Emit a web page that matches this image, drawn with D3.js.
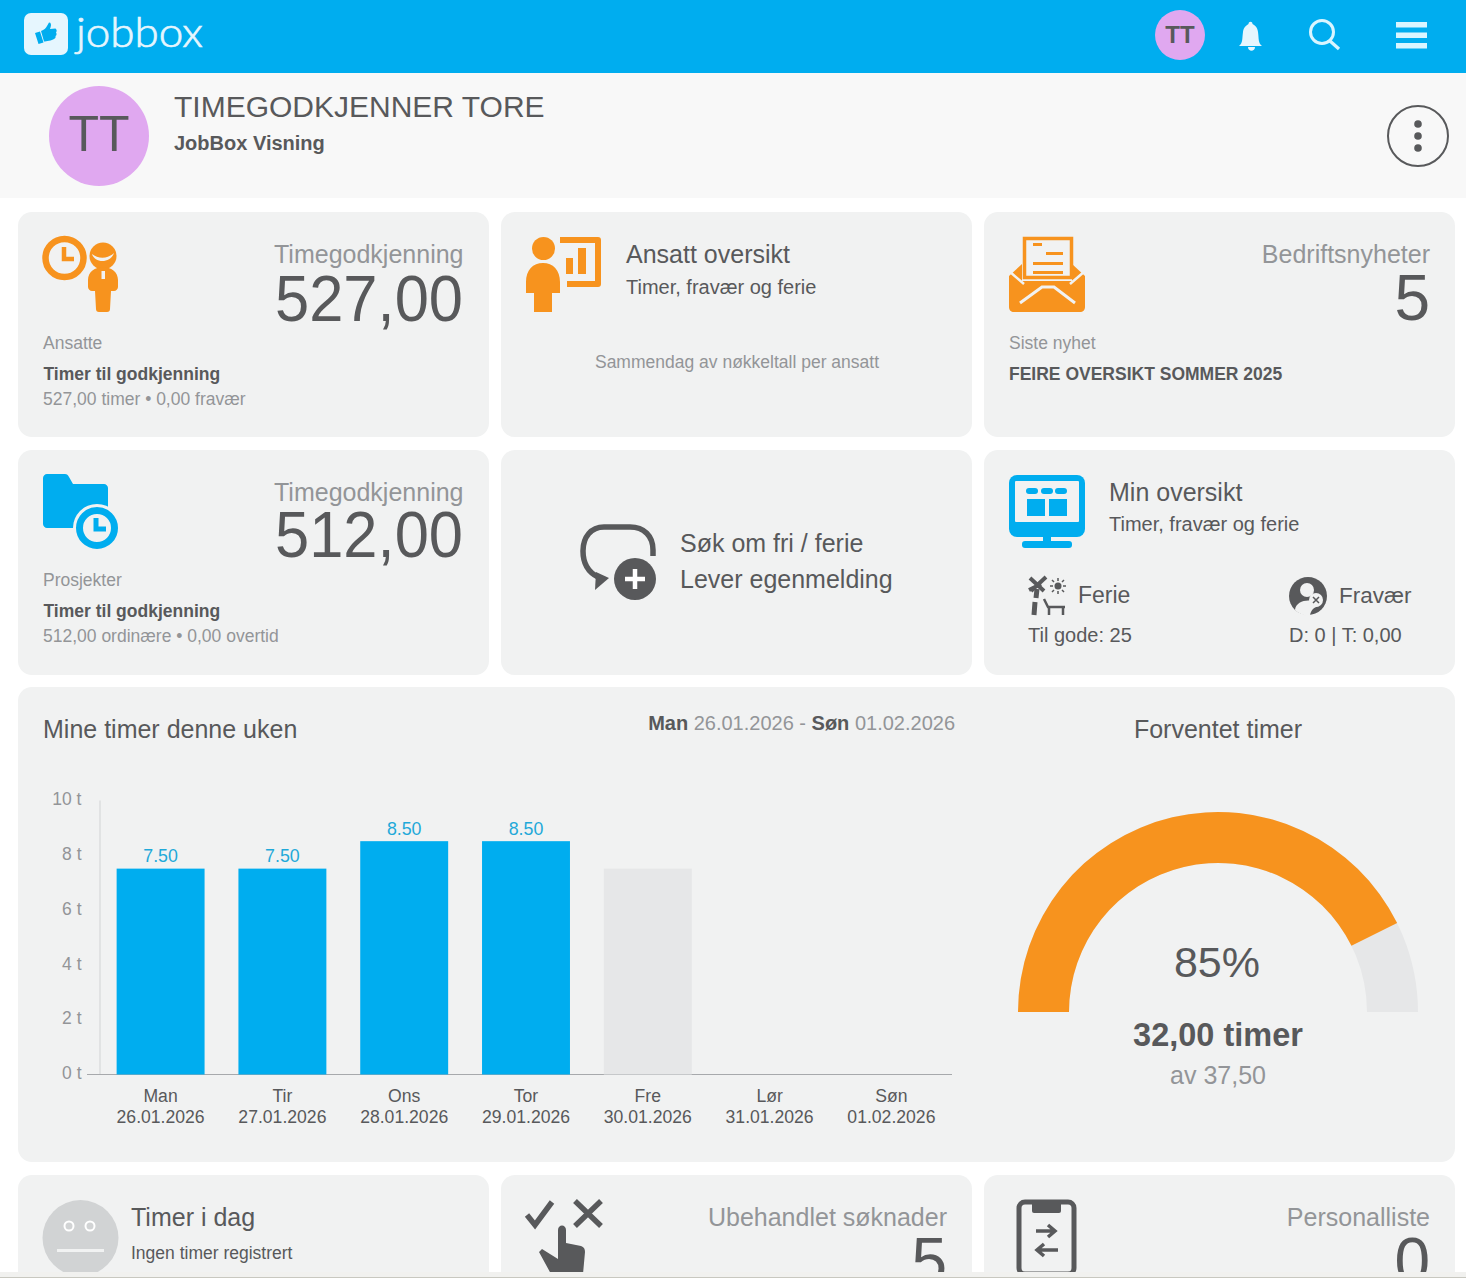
<!DOCTYPE html>
<html><head><meta charset="utf-8">
<script src="https://cdnjs.cloudflare.com/ajax/libs/d3/7.8.5/d3.min.js"></script>
<style>html,body{margin:0;padding:0;background:#fff;overflow:hidden}svg{display:block}text{font-family:"Liberation Sans",Arial,sans-serif}</style>
</head><body><div id="c"></div>
<script>
const days=["Man","Tir","Ons","Tor","Fre","Lør","Søn"];
const dates=["26.01.2026","27.01.2026","28.01.2026","29.01.2026","30.01.2026","31.01.2026","01.02.2026"];
const registered=[7.5,7.5,8.5,8.5,0,0,0];
const planned=[0,0,0,0,7.5,0,0];
const yTicks=[0,2,4,6,8,10];
const gaugeHours=32, gaugeTotal=37.5;

const BLUE="#00adef",OR="#f7931e",CARD="#f1f2f2",DK="#58595b",GR="#939598",LT="#e6e7e8";
const svg=d3.select("#c").append("svg").attr("width",1466).attr("height",1278);
const T=(x,y,s,size,fill,o={})=>svg.append("text").attr("x",x).attr("y",y).attr("font-size",size).attr("fill",fill)
  .attr("text-anchor",o.a||"start").attr("font-weight",o.b?"bold":"normal").text(s);
const P=(d,fill,stroke,w)=>svg.append("path").attr("d",d).attr("fill",fill||"none").attr("stroke",stroke||"none").attr("stroke-width",w||0);
const C=(x,y,r,fill,stroke,w)=>svg.append("circle").attr("cx",x).attr("cy",y).attr("r",r).attr("fill",fill||"none").attr("stroke",stroke||"none").attr("stroke-width",w||0);
const R=(x,y,w,h,fill,rx)=>svg.append("rect").attr("x",x).attr("y",y).attr("width",w).attr("height",h).attr("fill",fill).attr("rx",rx||0);

// header
R(0,0,1466,73,BLUE); R(0,73,1466,125,"#f8f8f8");
R(24,13,44,42,"#e6f6fe",7);
P("M35 33l5-1.5 3.5 11-5 1.5zM41 31c3-1 5-3 6-5l2-3.500c2 0 2.500 2 1.500 5l-.5 1.500 5.500-.5c1.500 1 1.500 3 .5 4 1 1.500 .5 3-.5 3.500 .5 1.500-.5 2.500-1.500 3-2 1.500-8 2.500-10 2.500z",BLUE);
svg.append("text").attr("x",76).attr("y",47).attr("font-size",41).attr("textLength",127).attr("lengthAdjust","spacingAndGlyphs")
  .attr("fill","#e6f6fe").attr("stroke","#e6f6fe").attr("stroke-width",.7).style("font-family","Lato, 'Open Sans'").attr("font-weight",300).text("jobbox");
C(1180,35,25,"#e0a8f0"); T(1180,43,"TT",24,DK,{a:"middle",b:1});
P("M1239 46c4-3 3-7 4-14 .5-5 4-7 5.500-8 0-3 4-3 4 0 2 1 5 3 5.500 8 1 7 0 11 4 14z M1248 47h7c0 5-7 5-7 0z","#e6f6fe");
C(1322,32,11.5,"none","#d9f5ff",3); P("M1330 41l9 8","none","#d9f5ff",3.200);
R(1396,22,31,5.500,"#d9f5ff");R(1396,32.500,31,5.500,"#d9f5ff");R(1396,43,31,5.500,"#d9f5ff");

C(99,136,50,"#e0a8f0"); T(99,151,"TT",50,DK,{a:"middle"});
T(174,117,"TIMEGODKJENNER TORE",30,DK);
T(174,150,"JobBox Visning",20,DK,{b:1});
C(1418,136,30,"none",DK,2);C(1418,124,3.800,DK);C(1418,136,3.800,DK);C(1418,148,3.800,DK);

// cards
[[18,212,225],[501,212,225],[984,212,225],[18,450,225],[501,450,225],[984,450,225]].forEach(c=>R(c[0],c[1],471,c[2],CARD,14));
R(18,687,1437,475,CARD,14);
[18,501,984].forEach(x=>R(x,1175,471,120,CARD,14));

const big=(x,y,s)=>T(x,y,s,65,DK,{a:"end"}).attr("textLength",188).attr("lengthAdjust","spacingAndGlyphs");

// card 1
C(64.500,258,19,"none",OR,6.500);P("M64 247v12h10","none",OR,4.500);
C(103,256,13.500,OR);P("M92 254c6 5 16 5 22-1-3 10-19 11-22 1z",CARD);
P("M88 280c0-8 7-13 15-13s15 5 15 13v7c0 2-2 4-4 4h-3l-1 18c0 2-1 3-3 3h-8c-2 0-3-1-3-3l-1-18h-3c-2 0-4-2-4-4z",OR);R(101.500,271,3.500,8,CARD);
T(463.500,263,"Timegodkjenning",25,GR,{a:"end"});
big(463,321,"527,00");
T(43,349,"Ansatte",17.500,GR);
T(43.500,380,"Timer til godkjenning",17.500,DK,{b:1});
T(43,405,"527,00 timer • 0,00 fravær",17.500,GR);

// card 2
C(543.500,248.500,11.500,OR);
P("M526 282c0-12 7-19 17-19s17 7 17 19v11h-8v19h-18v-19h-8z",OR);
P("M560 240h38v44h-31","none",OR,6).attr("stroke-linejoin","round");R(566,258,7,16,OR);R(578,248,8,26,OR);
T(626,263,"Ansatt oversikt",25,DK);
T(626,294,"Timer, fravær og ferie",20,DK);
T(737,368,"Sammendag av nøkkeltall per ansatt",17.500,GR,{a:"middle"});

// card 3
P("M1009 276L1022 264V281H1072V264L1085 276V307c0 3-2 5-5 5h-66c-3 0-5-2-5-5z",OR);
P("M1024.500 238.500h47v39h-47z",CARD,OR,3.500);R(1033,243,9,3,OR);R(1046,252,17,3,OR);R(1033,262,30,3,OR);R(1033,271,30,3,OR);
P("M1009 271l15 13M1085 271l-15 13","none",CARD,2.500);
P("M1020 303l22-16h12l21 16","none",CARD,3);
T(1430,263,"Bedriftsnyheter",25,GR,{a:"end"});
T(1430,320,"5",64,DK,{a:"end"});
T(1009,349,"Siste nyhet",17.500,GR);
T(1009,380,"FEIRE OVERSIKT SOMMER 2025",17.500,DK,{b:1});

// card 4
P("M43 478c0-2 2-4 4-4h18c2 0 3 1 4 3l4 7h31c2 0 4 2 4 4v40h-61c-2 0-4-2-4-4z",BLUE);
C(97,528,24,CARD);C(97,528,17.500,CARD,BLUE,7);P("M96 518v11h10","none",BLUE,5);
T(463.500,501,"Timegodkjenning",25,GR,{a:"end"});
big(463,557,"512,00");
T(43,586,"Prosjekter",17.500,GR);
T(43.500,617,"Timer til godkjenning",17.500,DK,{b:1});
T(43,642,"512,00 ordinære • 0,00 overtid",17.500,GR);

// card 5
P("M653 556v-6c0-14-9-23-23-23h-26c-13 0-21 10-21 24 0 12 5 21 15 26","none",DK,5.500);
P("M596 572l-1 18 14-12z",DK);
C(635,579,21,DK);P("M625 579h20M635 569v20","none","#fff",4.500);
T(680,552,"Søk om fri / ferie",25,DK);
T(680,588,"Lever egenmelding",25,DK);

// card 6
R(1009,475,76,62,BLUE,8);R(1015,481,64,41,CARD,1);
R(1026,488,12,6,BLUE,3);R(1041,488,12,6,BLUE,3);R(1055,488,12,6,BLUE,3);R(1027,499,18,17,BLUE);R(1049,499,18,17,BLUE);
R(1043,535,8,8,BLUE);R(1022,541,50,7,BLUE,3);
T(1109,501,"Min oversikt",25,DK);
T(1109,531,"Timer, fravær og ferie",20,DK);
P("M1030 578l14 13M1046 577l-15 14M1029 590l12-6","none",DK,4);
P("M1037 589l-1 9M1035 602l-1 13","none",DK,5);
P("M1044 599l4 8h17M1049 607v8M1063 607v8","none",DK,2.500);
C(1058,586,3.500,DK);P("M1058 578v3M1058 591v3M1050 586h3M1063 586h3M1052 580l2 2M1062 590l2 2M1064 580l-2 2M1054 590l-2 2","none",DK,1.500);
T(1078,603,"Ferie",23,DK);
T(1028,642,"Til gode: 25",20,DK);
C(1308,596,19,DK);C(1307,590,7,CARD);P("M1295 610c1-12 22-12 24-4-5 1-8 4-9 9-6 1-11-1-15-5z",CARD);
C(1316,600,7,CARD);P("M1313 597l6 6M1319 597l-6 6","none",DK,1.500);
T(1339,603,"Fravær",22.500,DK);
T(1289,642,"D: 0 | T: 0,00",20,DK);

// chart section headers
T(43,738,"Mine timer denne uken",25,DK);
const hd=T(955,730,"",20,DK,{a:"end"});
[["Man",1],[" 26.01.2026 - ",0],["Søn",1],[" 01.02.2026",0]].forEach(p=>hd.append("tspan").attr("font-weight",p[1]?"bold":"normal").attr("fill",p[1]?DK:GR).text(p[0]));
T(1218,738,"Forventet timer",25,DK,{a:"middle"});

// bar chart
const x=d3.scaleBand().domain(days).range([99.700,952.300]).paddingInner(.278).paddingOuter(.139);
const y=d3.scaleLinear().domain([0,10]).range([1074.500,800]);
const ya=svg.append("g").attr("transform","translate(99.500,0)").call(d3.axisLeft(y).tickValues(yTicks).tickFormat(d=>d+" t").tickSize(0).tickPadding(18));
ya.select(".domain").attr("stroke","#d1d3d4").attr("stroke-width",1);
ya.selectAll("text").attr("font-size",17.500).attr("fill",GR).attr("dy","0.25em").style("font-family","'Liberation Sans'");
svg.append("line").attr("x1",87).attr("x2",952).attr("y1",y(0)).attr("y2",y(0)).attr("stroke","#a7a9ac").attr("stroke-width",1);
const cx=d=>x(d)+x.bandwidth()/2;
days.forEach((d,i)=>{
  T(cx(d),1102,d,17.600,DK,{a:"middle"});
  T(cx(d),1123,dates[i],17.600,DK,{a:"middle"});
});
svg.append("g").selectAll("rect").data(days).join("rect").attr("x",d=>x(d)).attr("width",x.bandwidth())
  .attr("y",(d,i)=>y(planned[i])).attr("height",(d,i)=>y(0)-y(planned[i])).attr("fill",LT);
svg.append("g").selectAll("rect").data(days).join("rect").attr("x",d=>x(d)).attr("width",x.bandwidth())
  .attr("y",(d,i)=>y(registered[i])).attr("height",(d,i)=>y(0)-y(registered[i])).attr("fill",BLUE);
days.forEach((d,i)=>{ if(registered[i]>0) T(cx(d),y(registered[i])-6.500,registered[i].toFixed(2),17.800,"#1fa9d9",{a:"middle"}); });

// gauge
const ang=d3.scaleLinear().domain([0,gaugeTotal]).range([-Math.PI/2,Math.PI/2]);
const arc=d3.arc().innerRadius(149).outerRadius(200);
const g=svg.append("g").attr("transform","translate(1218,1012)");
g.append("path").attr("d",arc({startAngle:ang(0),endAngle:ang(gaugeTotal)})).attr("fill",LT);
g.append("path").attr("d",arc({startAngle:ang(0),endAngle:ang(gaugeHours)})).attr("fill",OR);
T(1217,977,"85%",43,DK,{a:"middle"});
T(1218,1046,"32,00 timer",32.500,DK,{a:"middle",b:1});
T(1218,1084,"av 37,50",25,GR,{a:"middle"});

// bottom row
C(80.500,1238,38,"#d1d3d4");C(69,1226,4.500,"none","#fff",2);C(90,1226,4.500,"none","#fff",2);R(57,1249,47,3,CARD);
T(131,1226,"Timer i dag",25,DK);
T(131,1259,"Ingen timer registrert",17.500,DK);
P("M527 1215l8 10 17-23","none",DK,5.500);P("M575 1201l26 25M601 1201l-26 25","none",DK,5.500);
P("M558 1230c0-6 8-6 8 0v13l15 3c3 1 4 3 4 6l-2 22h-32l-12-22 3-3 16 10z",DK);
T(947,1226,"Ubehandlet søknader",25,GR,{a:"end"});
T(947,1283,"5",64,DK,{a:"end"});
R(1019,1202,55,72,"none",6).attr("stroke",DK).attr("stroke-width",5);R(1032,1200,29,13,DK,2);
P("M1036 1231h18M1048 1225l7 6-7 6M1058 1250h-20M1044 1244l-7 6 7 6","none",DK,3.500);
T(1430,1226,"Personalliste",25,GR,{a:"end"});
T(1430,1283,"0",64,DK,{a:"end"});
R(0,1272,1466,6,"#f1f1ef");R(0,1277,1466,1,"#c8c8c0");
</script></body></html>
